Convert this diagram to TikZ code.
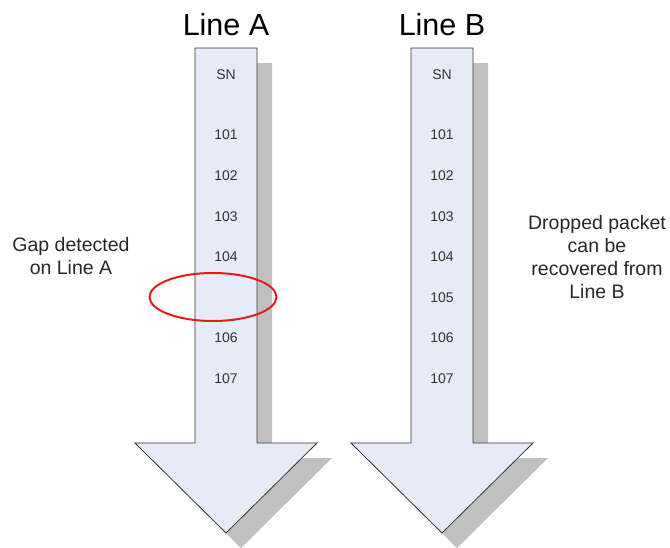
\documentclass[tikz,border=0pt]{standalone}
\usepackage{fontspec}
\setmainfont{Liberation Sans}
\usetikzlibrary{positioning, shapes.geometric}

\definecolor{shaftblue}{HTML}{E6ECF7}
\definecolor{shadowgray}{HTML}{C0C0C0}
\definecolor{gapred}{HTML}{E41B1B}

\tikzset{
  linetitle/.style={font=\fontsize{30.5}{33}\selectfont},
  seqnum/.style={font=\fontsize{14}{16}\selectfont, text=black!80},
  sidenote/.style={font=\fontsize{19.5}{23.3}\selectfont, align=center, text=black!85},
  gapmark/.style={draw=gapred, line width=2pt, ellipse, minimum width=127pt, minimum height=48pt, inner sep=0pt},
}

\begin{document}
\begin{tikzpicture}[x=1pt, y=-1pt]
  \useasboundingbox (0,0) rectangle (670,547);

  % the two lines, drawn as big down arrows with a shadow
  \foreach \cx/\nm in {226/A, 442/B} {
    \fill[shadowgray, shift={(15,15)}]
      ({\cx-31},48) -- ({\cx+31},48) -- ({\cx+31},443) -- ({\cx+91},443)
      -- (\cx,533) -- ({\cx-91},443) -- ({\cx-31},443) -- cycle;
    \draw[fill=shaftblue, draw=black!80, line width=0.8pt]
      ({\cx-31},48) -- ({\cx+31},48) -- ({\cx+31},443) -- ({\cx+91},443)
      -- (\cx,533) -- ({\cx-91},443) -- ({\cx-31},443) -- cycle;
    \node[linetitle] (title\nm) at (\cx,25) {Line \nm};
    \node[seqnum] (sn\nm) at (\cx,75) {SN};
  }

  % sequence numbers
  \foreach \i in {1,...,7} {
    \node[seqnum] (numB\i) at (442,{135+40.6*(\i-1)}) {10\i};
  }
  \foreach \i in {1,2,3,4,6,7} {
    \node[seqnum] (numA\i) at (226,{135+40.6*(\i-1)}) {10\i};
  }

  % the missing packet
  \node[gapmark] (gap) at (213,297) {};

  \node[sidenote] (gapnote) at (71,256) {Gap detected\\on Line A};
  \node[sidenote] (dropnote) at (597,257) {Dropped packet\\can be\\recovered from\\Line B};
\end{tikzpicture}
\end{document}
